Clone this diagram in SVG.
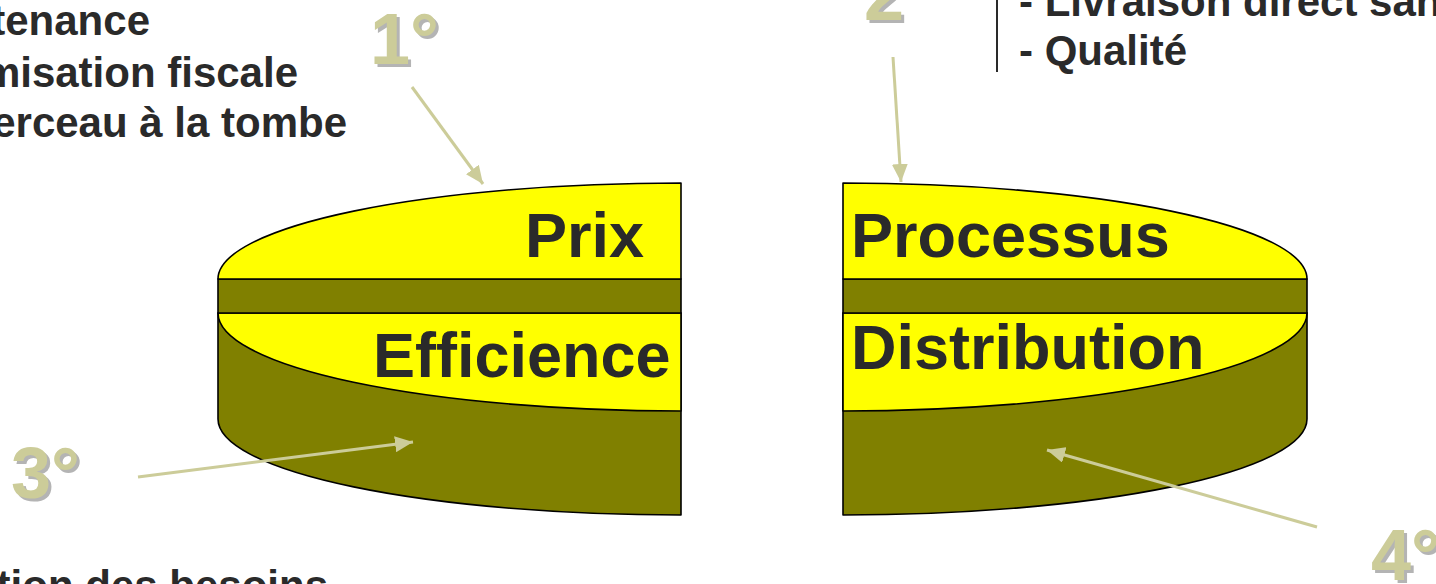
<svg xmlns="http://www.w3.org/2000/svg" width="1436" height="584" viewBox="0 0 1436 584">
<style>
.face{fill:#ffff00;stroke:#000;stroke-width:1.6;stroke-linejoin:round}
.side{fill:#808000;stroke:#000;stroke-width:1.6;stroke-linejoin:round}
.lbl{font-family:"Liberation Sans",Arial,sans-serif;font-weight:bold;font-size:63px;fill:#2a2a2a}
.txt{font-family:"Liberation Sans",Arial,sans-serif;font-weight:bold;font-size:42px;fill:#2a2a2a}
.num{font-family:"Liberation Sans",Arial,sans-serif;font-weight:bold;font-size:72px;fill:#cccc99}
.sh{font-family:"Liberation Sans",Arial,sans-serif;font-weight:bold;font-size:72px;fill:#b4b4b4}
.arr{stroke:#cccc99;stroke-width:3;fill:none;marker-end:url(#ah)}
</style>
<defs>
<marker id="ah" markerUnits="userSpaceOnUse" markerWidth="20" markerHeight="16" refX="18" refY="8" orient="auto">
<path d="M0,0 L18,8 L0,16 Z" fill="#cccc99"/>
</marker>
</defs>
<rect width="1436" height="584" fill="#fff"/>

<g id="text-left">
<text class="txt" x="150" y="35" text-anchor="end">tenance</text>
<text class="txt" x="298" y="87" text-anchor="end">misation fiscale</text>
<text class="txt" x="347" y="137" text-anchor="end">erceau à la tombe</text>
<text class="txt" x="328" y="600" text-anchor="end">tion des besoins</text>
</g>

<g id="text-right">
<line x1="997" y1="0" x2="997" y2="72" stroke="#2a2a2a" stroke-width="2"/>
<text class="txt" x="1019" y="16">- Livraison direct san</text>
<text class="txt" x="1019" y="65">- Qualité</text>
</g>

<g id="disk-left">
<path class="side" d="M681,313 H218 V419 A463,96 0 0 0 681,515 Z"/>
<path class="face" d="M681,313 H218 A463,98 0 0 0 681,411 Z"/>
<rect class="side" x="218" y="279" width="463" height="34"/>
<path class="face" d="M681,279 V183 A463,96 0 0 0 218,279 Z"/>
<text class="lbl" x="525" y="257">Prix</text>
<text class="lbl" x="373" y="377">Efficience</text>
</g>

<g id="disk-right">
<path class="side" d="M843,313 H1307 V419 A464,96 0 0 1 843,515 Z"/>
<path class="face" d="M843,313 H1307 A464,98 0 0 1 843,411 Z"/>
<rect class="side" x="843" y="279" width="464" height="34"/>
<path class="face" d="M843,279 V183 A464,96 0 0 1 1307,279 Z"/>
<text class="lbl" x="851" y="257">Processus</text>
<text class="lbl" x="851" y="369">Distribution</text>
</g>

<g id="numbers">
<text class="sh" x="373" y="67">1°</text><text class="num" x="370" y="64">1°</text>
<text class="sh" x="867" y="23">2</text><text class="num" x="864" y="20">2</text>
<text class="sh" x="14" y="501">3°</text><text class="num" x="11" y="498">3°</text>
<text class="sh" x="1374" y="583">4°</text><text class="num" x="1371" y="580">4°</text>
</g>

<g id="connectors">
<line class="arr" x1="412" y1="87" x2="483" y2="184"/>
<line class="arr" x1="893" y1="57" x2="901" y2="182"/>
<line class="arr" x1="138" y1="477" x2="413" y2="442"/>
<line class="arr" x1="1317" y1="527" x2="1047" y2="450"/>
</g>
</svg>
